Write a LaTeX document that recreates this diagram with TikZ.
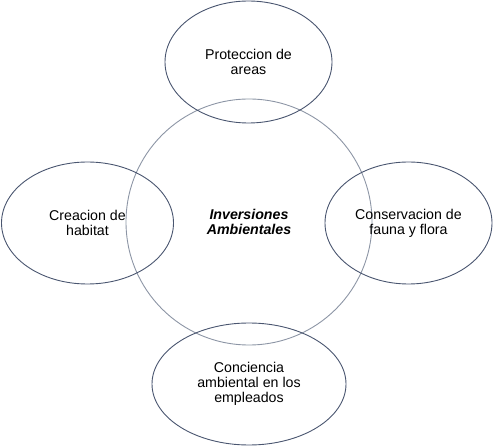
\documentclass[tikz,border=0pt]{standalone}
\usepackage{fontspec}
\setmainfont{Liberation Sans}
\usetikzlibrary{shapes.geometric}
\definecolor{ellline}{HTML}{4A5670}
\definecolor{circline}{HTML}{8C95A5}
\tikzset{
  leaf/.style={ellipse, draw=ellline, line width=0.9pt, inner sep=0pt,
    align=center, font=\fontsize{14.2}{15}\selectfont, text=black},
  hub/.style={circle, draw=circline, line width=0.9pt, inner sep=0pt,
    align=center, font=\fontsize{14.2}{15}\selectfont\bfseries\itshape, text=black}
}
\begin{document}
\begin{tikzpicture}[x=1pt,y=-1pt]
\useasboundingbox (0,0) rectangle (493,446);
\node[hub, minimum size=246pt] (c) at (249,222) {Inversiones\\Ambientales};
\node[leaf, minimum width=167pt, minimum height=122pt] (t) at (248.5,62) {Proteccion de\\areas};
\node[leaf, minimum width=172pt, minimum height=122pt] (l) at (87.5,223) {Creacion de\\habitat};
\node[leaf, minimum width=167pt, minimum height=122pt] (r) at (408.5,223) {Conservacion de\\fauna y flora};
\node[leaf, minimum width=194pt, minimum height=122pt] (b) at (249,384) {Conciencia\\ambiental en los\\empleados};
\end{tikzpicture}
\end{document}
